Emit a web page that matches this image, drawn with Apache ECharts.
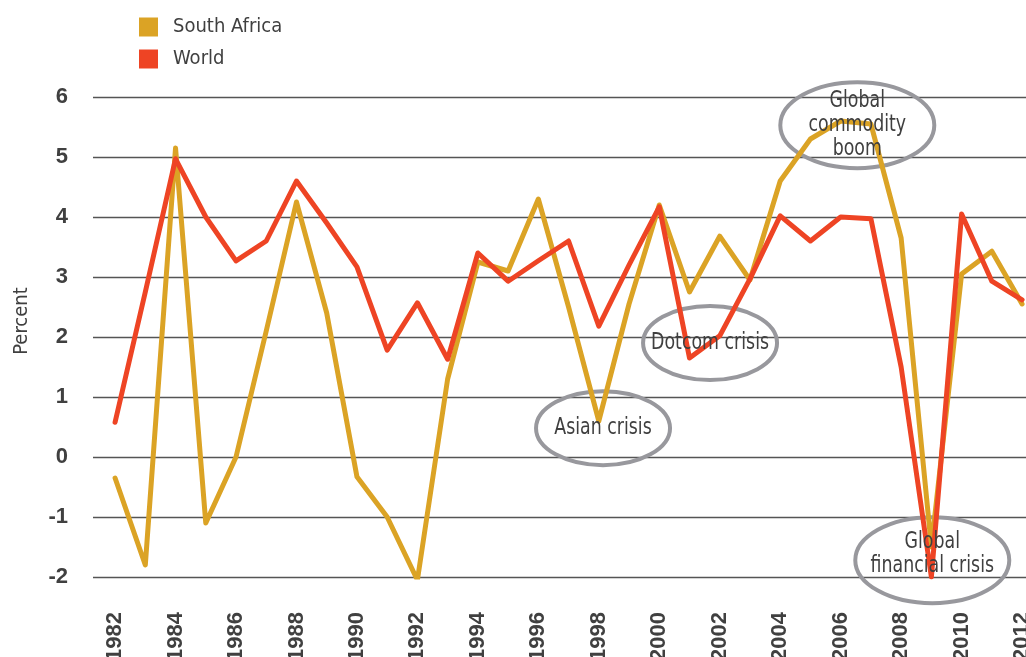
<!DOCTYPE html>
<html>
<head>
<meta charset="utf-8">
<script src="https://cdn.jsdelivr.net/npm/echarts@6/dist/echarts.min.js"></script>
<style>
html, body { margin: 0; padding: 0; background: #fff; }
#chart { width: 1026px; height: 657px; }
</style>
</head>
<body>
<div id="chart"></div>
<script>
var years = [1982, 1983, 1984, 1985, 1986, 1987, 1988, 1989, 1990, 1991,
             1992, 1993, 1994, 1995, 1996, 1997, 1998, 1999, 2000, 2001,
             2002, 2003, 2004, 2005, 2006, 2007, 2008, 2009, 2010, 2011, 2012];
var southAfrica = [-0.35, -1.8, 5.15, -1.1, 0.0, 2.1, 4.25, 2.4, -0.33, -1.0,
                   -2.05, 1.3, 3.25, 3.1, 4.3, 2.5, 0.6, 2.55, 4.2, 2.75,
                   3.68, 2.95, 4.6, 5.3, 5.6, 5.55, 3.65, -1.5, 3.05, 3.43, 2.55];
var world = [0.58, 2.75, 4.97, 4.0, 3.27, 3.6, 4.6, 3.9, 3.17, 1.78,
             2.57, 1.63, 3.4, 2.93, 3.27, 3.6, 2.18, 3.2, 4.17, 1.65,
             2.02, 2.97, 4.02, 3.6, 4.0, 3.97, 1.5, -2.0, 4.05, 2.93, 2.62];
var yearLabels = [1982, 1984, 1986, 1988, 1990, 1992, 1994, 1996, 1998,
                  2000, 2002, 2004, 2006, 2008, 2010, 2012];

// annotation bubbles, anchored in data coordinates
var notes = [
  { text: 'Asian crisis', year: 1998.14, value: 0.48, rx: 67, ry: 37, dy: 0 },
  { text: 'Dotcom crisis', year: 2001.68, value: 1.9, rx: 67, ry: 37, dy: 0 },
  { text: 'Global\ncommodity\nboom', year: 2006.55, value: 5.53, rx: 77, ry: 43, dy: 0 },
  { text: 'Global\nfinancial crisis', year: 2009.03, value: -1.72, rx: 77, ry: 43, dy: -6 }
];

var narrow = "'DejaVu Sans Condensed', 'Liberation Sans Narrow', sans-serif";
var boldFont = "'Liberation Sans', Arial, sans-serif";
var textColor = '#404040';

function pairs(vals) {
  return years.map(function (y, i) { return [y, vals[i]]; });
}

var chart = echarts.init(document.getElementById('chart'));
chart.setOption({
  animation: false,
  grid: { left: 93, right: 0, top: 97, bottom: 80, outerBoundsMode: 'none', containLabel: false },
  legend: {
    orient: 'vertical',
    left: 139,
    top: 17,
    icon: 'rect',
    itemWidth: 19,
    itemHeight: 19,
    itemGap: 12,
    padding: 0,
    textStyle: { fontSize: 20, lineHeight: 19, color: textColor, fontFamily: narrow, padding: [0, 0, 0, 10] },
    data: ['South Africa', 'World']
  },
  xAxis: {
    type: 'value',
    min: 1981.27,
    max: 2012.13,
    axisLine: { show: false },
    axisTick: { show: false },
    splitLine: { show: false },
    axisLabel: {
      customValues: yearLabels,
      rotate: 90,
      margin: 35,
      fontSize: 22,
      fontWeight: 'bold',
      fontFamily: boldFont,
      color: textColor,
      padding: [6, 0, 0, 0],
      formatter: function (v) { return String(v); }
    }
  },
  yAxis: {
    type: 'value',
    min: -2,
    max: 6,
    interval: 1,
    name: 'Percent',
    nameLocation: 'middle',
    nameGap: 61,
    nameTextStyle: { fontSize: 20, color: textColor, fontFamily: narrow, padding: [0, 0, 0, 32] },
    axisLine: { show: false },
    axisTick: { show: false },
    splitLine: { lineStyle: { color: '#555', width: 1.3 } },
    axisLabel: { fontSize: 22, fontWeight: 'bold', fontFamily: boldFont, color: textColor, margin: 25 }
  },
  series: [
    {
      name: 'South Africa',
      type: 'line',
      data: pairs(southAfrica),
      symbol: 'none',
      itemStyle: { color: '#DBA325' },
      lineStyle: { color: '#DBA325', width: 5, join: 'round', cap: 'round' }
    },
    {
      name: 'World',
      type: 'line',
      data: pairs(world),
      symbol: 'none',
      itemStyle: { color: '#EE4424' },
      lineStyle: { color: '#EE4424', width: 5, join: 'round', cap: 'round' }
    }
  ]
});

var graphics = [];
notes.forEach(function (n) {
  var p = chart.convertToPixel({ gridIndex: 0 }, [n.year, n.value]);
  graphics.push({
    type: 'ellipse',
    z: 1,
    shape: { cx: p[0], cy: p[1], rx: n.rx, ry: n.ry },
    style: { fill: 'none', stroke: '#98989d', lineWidth: 4 }
  });
  graphics.push({
    type: 'text',
    z: 10,
    x: p[0],
    y: p[1] + n.dy,
    scaleX: 0.84,
    style: {
      text: n.text,
      fill: '#3f3f3f',
      font: '23px ' + narrow,
      align: 'center',
      verticalAlign: 'middle',
      lineHeight: 24
    }
  });
});
chart.setOption({ graphic: graphics });
</script>
</body>
</html>
